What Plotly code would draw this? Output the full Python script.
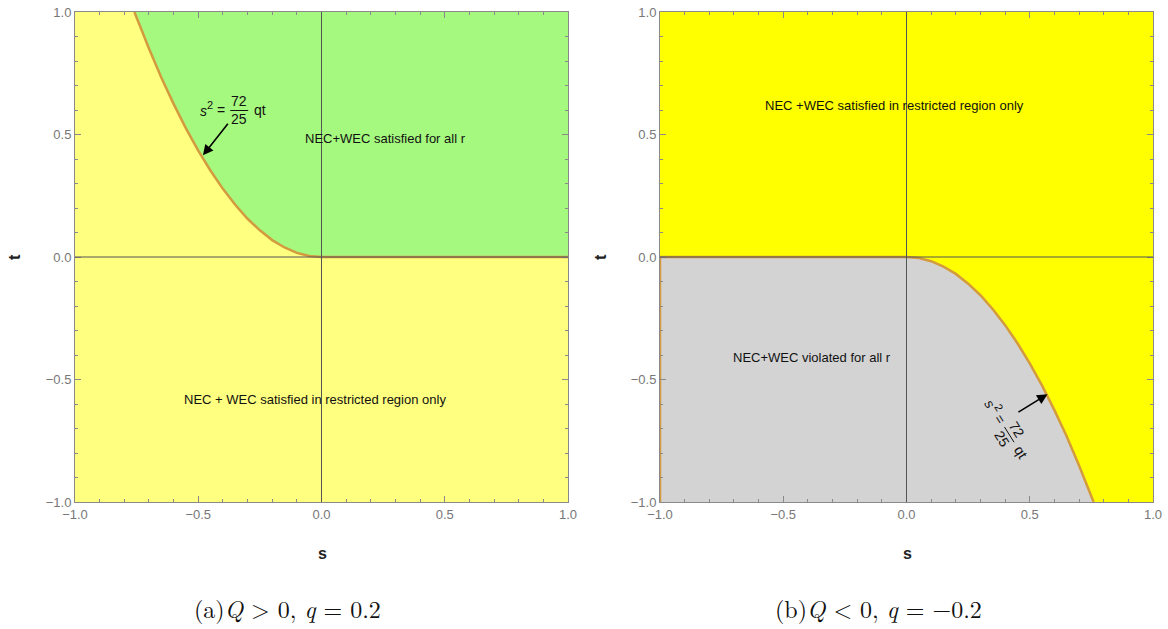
import math
import plotly.graph_objects as go

# ---- data ----
# boundary curve s^2 = 72/25 q t  (left panel, q = 0.2, s <= 0, t >= 0)
s_left = [-0.759, -0.70, -0.65, -0.60, -0.55, -0.50, -0.45, -0.40, -0.35, -0.30,
          -0.25, -0.20, -0.15, -0.10, -0.05, 0.0]
t_left = [1.0, 0.851, 0.733, 0.625, 0.525, 0.434, 0.352, 0.278, 0.213, 0.156,
          0.109, 0.069, 0.039, 0.017, 0.004, 0.0]
# right panel, q = -0.2, s >= 0, t <= 0
s_right = [0.0, 0.05, 0.10, 0.15, 0.20, 0.25, 0.30, 0.35, 0.40, 0.45, 0.50,
           0.55, 0.60, 0.65, 0.70, 0.759]
t_right = [0.0, -0.004, -0.017, -0.039, -0.069, -0.109, -0.156, -0.213, -0.278,
           -0.352, -0.434, -0.525, -0.625, -0.733, -0.851, -1.0]

tick_vals = [-1.0, -0.5, 0.0, 0.5, 1.0]
tick_text = ["\u22121.0", "\u22120.5", "0.0", "0.5", "1.0"]

label_left_green = "NEC+WEC satisfied for all r"
label_left_yellow = "NEC + WEC satisfied in restricted region only"
label_right_yellow = "NEC +WEC satisfied in restricted region only"
label_right_gray = "NEC+WEC violated for all r"
caption_a = "(a)<i>Q</i> &gt; 0, <i>q</i> = 0.2"
caption_b = "(b)<i>Q</i> &lt; 0, <i>q</i> = \u22120.2"

# ---- styles ----
YEL_L = "#FFFF80"
GREEN = "#A6F97F"
YEL_R = "#FFFF00"
GRAY = "#D3D3D3"
ORANGE = "#D39B3E"
FRAME = "#8A8A8A"

W, H = 1168, 629
ML, MR, MT, MB = 75, W - 1153, 12, H - 502
PW = W - ML - MR
PH = H - MT - MB


def px(xp):
    return (xp - ML) / PW


def py(yp):
    return (H - MB - yp) / PH


xd1 = [0.0, px(568)]
xd2 = [px(660), 1.0]
yd = [0.0, 1.0]

fig = go.Figure()

# left: green region (above curve)
fig.add_trace(go.Scatter(
    x=s_left + [1.0, 1.0], y=t_left + [0.0, 1.0],
    fill="toself", fillcolor=GREEN, line=dict(width=0), mode="lines",
    xaxis="x", yaxis="y", hoverinfo="skip", showlegend=False))
# left boundary
fig.add_trace(go.Scatter(
    x=s_left + [1.0], y=t_left + [0.0], mode="lines",
    line=dict(color=ORANGE, width=2.5), xaxis="x", yaxis="y",
    hoverinfo="skip", showlegend=False))

# right: gray region
fig.add_trace(go.Scatter(
    x=[-1.0, -1.0] + s_right, y=[-1.0, 0.0] + t_right,
    fill="toself", fillcolor=GRAY, line=dict(width=0), mode="lines",
    xaxis="x2", yaxis="y2", hoverinfo="skip", showlegend=False))
fig.add_trace(go.Scatter(
    x=[-1.0, -1.0] + s_right, y=[-1.0, 0.0] + t_right, mode="lines",
    line=dict(color=ORANGE, width=2.5), xaxis="x2", yaxis="y2",
    hoverinfo="skip", showlegend=False))

shapes = []
# background fills
shapes.append(dict(type="rect", xref="x domain", yref="y domain", x0=0, x1=1, y0=0, y1=1,
                   fillcolor=YEL_L, line=dict(width=0), layer="below"))
shapes.append(dict(type="rect", xref="x2 domain", yref="y2 domain", x0=0, x1=1, y0=0, y1=1,
                   fillcolor=YEL_R, line=dict(width=0), layer="below"))
# axes lines s=0, t=0
for xa, ya in (("x", "y"), ("x2", "y2")):
    shapes.append(dict(type="line", xref=xa, yref=ya + " domain", x0=0, x1=0, y0=0, y1=1,
                       line=dict(color="#555555", width=1), layer="above"))
    shapes.append(dict(type="line", xref=xa + " domain", yref=ya, x0=0, x1=1, y0=0, y1=0,
                       line=dict(color="#555555", width=1), layer="above"))

annotations = []
txtfont = dict(family="Liberation Sans, Arial, sans-serif", size=13, color="#111111")
fmfont = dict(family="Liberation Sans, Arial, sans-serif", size=14, color="#111111")
supfont = dict(family="Liberation Sans, Arial, sans-serif", size=11, color="#111111")

annotations += [
    dict(x=0.258, y=0.482, xref="x", yref="y", text=label_left_green, showarrow=False, font=txtfont),
    dict(x=-0.026, y=-0.58, xref="x", yref="y", text=label_left_yellow, showarrow=False, font=txtfont),
    dict(x=-0.047, y=0.62, xref="x2", yref="y2", text=label_right_yellow, showarrow=False, font=txtfont),
    dict(x=-0.383, y=-0.41, xref="x2", yref="y2", text=label_right_gray, showarrow=False, font=txtfont),
]

# arrows
annotations.append(dict(x=-0.481, y=0.415, ax=-0.375, ay=0.55, xref="x", yref="y",
                        axref="x", ayref="y", text="", showarrow=True, arrowhead=2,
                        arrowsize=1.3, arrowwidth=1.6, arrowcolor="black", font=txtfont))
annotations.append(dict(x=0.572, y=-0.56, ax=0.448, ay=-0.637, xref="x2", yref="y2",
                        axref="x2", ayref="y2", text="", showarrow=True, arrowhead=2,
                        arrowsize=1.3, arrowwidth=1.6, arrowcolor="black", font=txtfont))


def formula(xref, yref, x0, y0, ang):
    """Place s^2 = 72/25 qt built from pieces, rotated by ang degrees (clockwise)."""
    th = math.radians(ang)
    c, s = math.cos(th), math.sin(th)
    pieces = [("<i>s</i>", -32, 1, fmfont), ("2", -25, -5, supfont), ("=", -14, 0, fmfont),
              ("72", 4, -9, fmfont), ("25", 4, 9, fmfont), ("qt", 25, 0, fmfont)]
    for text, dx, dy, fnt in pieces:
        rx = dx * c - dy * s
        ry = dx * s + dy * c
        annotations.append(dict(x=x0, y=y0, xref=xref, yref=yref, text=text, showarrow=False,
                                xshift=rx, yshift=-ry, textangle=ang, font=fnt))
    # fraction bar
    bx0, bx1, by = -5, 13, 0.5
    p0 = (bx0 * c - by * s, bx0 * s + by * c)
    p1 = (bx1 * c - by * s, bx1 * s + by * c)
    shapes.append(dict(type="line", xref=xref, yref=yref, xsizemode="pixel", ysizemode="pixel",
                       xanchor=x0, yanchor=y0, x0=p0[0], x1=p1[0], y0=-p0[1], y1=-p1[1],
                       line=dict(color="#111111", width=1), layer="above"))


formula("x", "y", -0.35, 0.6, 0)
formula("x2", "y2", 0.41, -0.71, 58)

# axis titles
bold = dict(family="Liberation Sans, Arial, sans-serif", size=16, color="#222222")
pap = dict(xref="paper", yref="paper", xanchor="center", yanchor="middle", showarrow=False)
annotations += [
    dict(x=px(322), y=py(553), text="<b>s</b>", font=bold, **pap),
    dict(x=px(907), y=py(553), text="<b>s</b>", font=bold, **pap),
    dict(x=px(14), y=py(257), text="<b>t</b>", textangle=-90, font=bold, **pap),
    dict(x=px(600), y=py(257), text="<b>t</b>", textangle=-90, font=bold, **pap),
]
capfont = dict(family="Latin Modern Roman, Liberation Serif, DejaVu Serif, serif", size=24, color="#111111")
annotations += [
    dict(x=px(287), y=py(608), text=caption_a, font=capfont, **pap),
    dict(x=px(878), y=py(608), text=caption_b, font=capfont, **pap),
]

axis_common = dict(range=[-1, 1], tickvals=tick_vals, ticktext=tick_text, ticks="inside",
                   ticklen=6, tickcolor=FRAME, tickwidth=1, showgrid=False, zeroline=False,
                   showline=True, linecolor=FRAME, linewidth=1, mirror="ticks", automargin=False,
                   tickfont=dict(family="Liberation Sans, Arial, sans-serif", size=13, color="#777777"),
                   minor=dict(dtick=0.1, tick0=0, ticks="inside", ticklen=3, tickcolor=FRAME),
                   fixedrange=True)

fig.update_layout(
    width=W, height=H, margin=dict(l=ML, r=MR, t=MT, b=MB, autoexpand=False),
    paper_bgcolor="white", plot_bgcolor="white",
    xaxis=dict(domain=xd1, anchor="y", **axis_common),
    yaxis=dict(domain=yd, anchor="x", **axis_common),
    xaxis2=dict(domain=xd2, anchor="y2", **axis_common),
    yaxis2=dict(domain=yd, anchor="x2", **axis_common),
    shapes=shapes, annotations=annotations, showlegend=False,
)

fig.write_html("out.html", config={"displayModeBar": False},
               post_script="document.body.style.margin='0';document.body.style.overflow='hidden';")
